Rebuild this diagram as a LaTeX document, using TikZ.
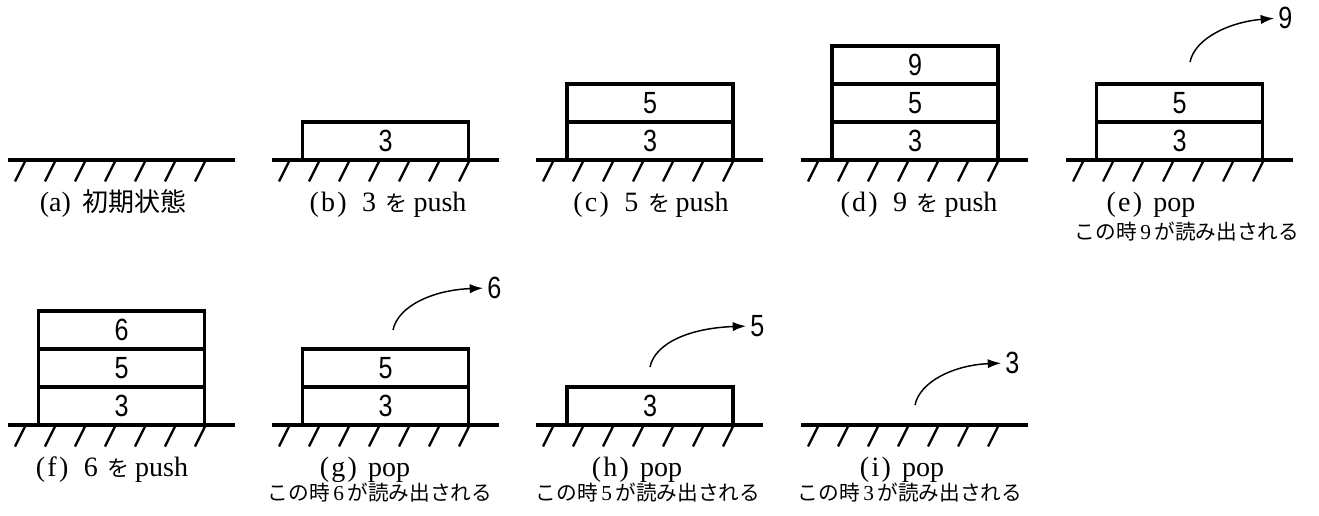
\documentclass[tikz,border=0pt]{standalone}
\usepackage{fontspec}
\setmainfont{Liberation Serif}
\newfontfamily\jp{Noto Sans CJK JP}
\newfontfamily\numf[FakeStretch=0.82]{Liberation Sans}
\usetikzlibrary{arrows.meta}

% Japanese pieces inside the captions
\newcommand\jw[1]{{\jp\fontsize{16.5}{18}\selectfont #1}}
% parenthesised tag, as in (b)
\newcommand\tag[1]{(\hspace{0.08em}#1\hspace{0.08em})}
% ground with seven hatch strokes: left x, ground y
\newcommand\groundat[2]{%
  \draw[groundline] (#1,#2) -- ++(227,0);
  \foreach \k in {0,...,6}{\draw[hatchline] (#1+17+30*\k,#2+1.5) -- ++(-10,20);}
}

\tikzset{
  groundline/.style={line width=2.6pt},
  hatchline/.style={line width=1.7pt},
  cell/.style={draw, line width=2.3pt, minimum width=124.5pt, minimum height=28.5pt,
    inner sep=0pt, outer sep=0pt, font=\numf\fontsize{23}{23}\selectfont},
  outnum/.style={inner sep=0pt, anchor=west, font=\numf\fontsize{23}{23}\selectfont},
  popline/.style={line width=1.1pt, -{Latex[length=10pt,width=7pt]}, shorten >=3pt},
  caption/.style={anchor=base, inner sep=0pt, font=\fontsize{21}{22}\selectfont},
  note/.style={anchor=base, inner sep=0pt, font=\jp\fontsize{15.5}{18}\selectfont},
}

\begin{document}
\begin{tikzpicture}[x=0.75pt, y=-0.75pt]
\useasboundingbox (0,0) rectangle (1319,516);

% ---------- top row ----------
% (a) empty stack
\groundat{8}{160}
\node[caption] (la) at (113,212) {(a)\hspace{0.4em}{\jp\fontsize{19.5}{22}\selectfont 初期状態}};

% (b) push 3
\groundat{272}{160}
\node[cell, anchor=south west] (b1) at (302.5,160) {3};
\node[caption] (lb) at (388,212) {\tag{b}\hspace{0.55em}3\hspace{0.35em}\jw{を}\hspace{0.2em}push};

% (c) push 5
\groundat{536}{160}
\node[cell, anchor=south west] (c1) at (567,160) {3};
\node[cell, anchor=south] (c2) at (c1.north) {5};
\node[caption] (lc) at (651,212) {\tag{c}\hspace{0.55em}5\hspace{0.35em}\jw{を}\hspace{0.2em}push};

% (d) push 9
\groundat{801}{160}
\node[cell, anchor=south west] (d1) at (832,160) {3};
\node[cell, anchor=south] (d2) at (d1.north) {5};
\node[cell, anchor=south] (d3) at (d2.north) {9};
\node[caption] (ld) at (919,212) {\tag{d}\hspace{0.55em}9\hspace{0.35em}\jw{を}\hspace{0.2em}push};

% (e) pop -> 9
\groundat{1066}{160}
\node[cell, anchor=south west] (e1) at (1096.5,160) {3};
\node[cell, anchor=south] (e2) at (e1.north) {5};
\coordinate (es) at (1190,62);
\node[outnum] (e9) at (1278,18) {9};
\draw[popline] (es) .. controls (1195,38) and (1230,22) .. (e9.west);
\node[caption] (le) at (1151,212) {\tag{e}\hspace{0.4em}pop};
\node[note] (ne) at (1187,240) {この時{\rmfamily\fontsize{16}{18}\selectfont\,9\,}が読み出される};

% ---------- bottom row ----------
% (f) push 6
\groundat{8}{425}
\node[cell, anchor=south west] (f1) at (38.5,425) {3};
\node[cell, anchor=south] (f2) at (f1.north) {5};
\node[cell, anchor=south] (f3) at (f2.north) {6};
\node[caption] (lf) at (112,476) {\tag{f}\hspace{0.55em}6\hspace{0.35em}\jw{を}\hspace{0.2em}push};

% (g) pop -> 6
\groundat{272}{425}
\node[cell, anchor=south west] (g1) at (302.5,425) {3};
\node[cell, anchor=south] (g2) at (g1.north) {5};
\coordinate (gs) at (393,330);
\node[outnum] (g6) at (487,288) {6};
\draw[popline] (gs) .. controls (398,306) and (433,290) .. (g6.west);
\node[caption] (lg) at (365,476) {\tag{g}\hspace{0.4em}pop};
\node[note] (ng) at (380,500) {この時{\rmfamily\fontsize{16}{18}\selectfont\,6\,}が読み出される};

% (h) pop -> 5
\groundat{536}{425}
\node[cell, anchor=south west] (h1) at (567,425) {3};
\coordinate (hs) at (650,367);
\node[outnum] (h5) at (750,326) {5};
\draw[popline] (hs) .. controls (655,343) and (690,328) .. (h5.west);
\node[caption] (lh) at (637,476) {\tag{h}\hspace{0.4em}pop};
\node[note] (nh) at (648,500) {この時{\rmfamily\fontsize{16}{18}\selectfont\,5\,}が読み出される};

% (i) pop -> 3
\groundat{801}{425}
\coordinate (is) at (915,405);
\node[outnum] (i3) at (1005,363) {3};
\draw[popline] (is) .. controls (920,381) and (955,365) .. (i3.west);
\node[caption] (li) at (902,476) {\tag{i}\hspace{0.4em}pop};
\node[note] (ni) at (910,500) {この時{\rmfamily\fontsize{16}{18}\selectfont\,3\,}が読み出される};
\end{tikzpicture}
\end{document}
